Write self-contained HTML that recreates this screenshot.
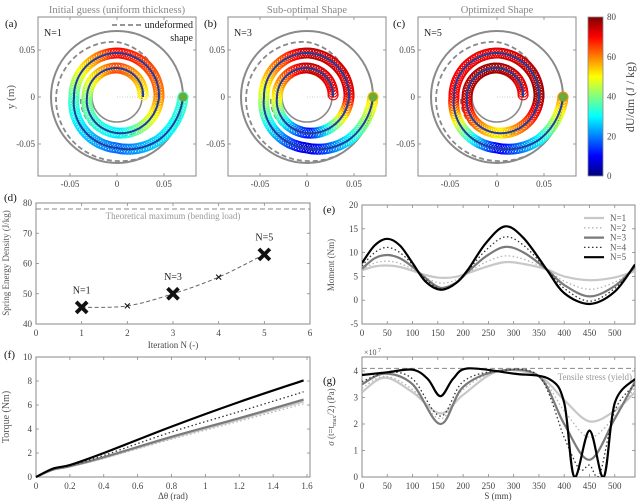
<!DOCTYPE html>
<html><head><meta charset="utf-8"><style>
html,body{margin:0;padding:0;background:#fff;}
svg{display:block;font-family:"Liberation Serif",serif;}
</style></head><body>
<svg id="fig" width="640" height="501" viewBox="0 0 640 501" xmlns="http://www.w3.org/2000/svg"></svg>
<script>
// ---------- data ----------
const spiralThetaKnots = [0,0.25,0.5,1,1.5,2,2.5,3,3.5,4]; // in units of pi
const spiralRadiusKnots = [66,60,51,43,44,42,36,30,29,26];
const colorA = [35,28,18,35,70,60,28,40,65,50];
const colorB = [55,30,6,45,75,72,10,50,75,70];
const colorC = [60,30,8,70,72,78,50,75,78,70];
const dashThetaKnots = [0.33,0.5,1,1.5,2,2.5,3];
const dashRadiusKnots = [66,64,61,55,40,40,36];

const iterations = [1,2,3,4,5];
const energyDensity = [45.5,46,50,55.5,63];
const theoreticalMax = 78;

const momentS = [0,25,50,75,100,125,155,185,210,245,283,320,365,400,450,500,540];
const momentN1 = [6.3,7.1,7.3,7,6.2,5.3,4.7,4.9,5.7,7,8,7.6,6.5,5,4.2,4.8,6.1];
const momentN2 = [6.4,7.8,8.2,7.7,6.5,4.8,3.6,4.2,5.8,8,9.3,8.6,6.5,4,2.3,3.8,6.6];
const momentN3 = [6.6,8.8,9.5,8.8,7,4.7,2.6,3.6,6,9.2,11.2,10,6.5,3.2,0.8,3,7];
const momentN4 = [7.2,10,11.1,10,7.5,4.5,2.4,3.5,6.3,10.5,13.3,11.5,6.5,2.5,-0.2,2.5,7.2];
const momentN5 = [7.8,11.5,12.9,11.5,7.8,4,2.2,3.5,6.5,12,15.5,13,6.5,1.5,-0.8,1.8,7.5];

const torqueX = [0,0.1,0.2,0.4,0.8,1.2,1.58];
const torqueN1 = [0,0.6,0.88,1.6,3.25,4.8,6.3];
const torqueN2 = [0,0.58,0.85,1.55,3.15,4.65,6.1];
const torqueN3 = [0,0.62,0.9,1.65,3.35,4.9,6.45];
const torqueN4 = [0,0.66,0.95,1.8,3.75,5.45,7.1];
const torqueN5 = [0,0.7,1.0,2.0,4.2,6.25,8.05];

const stressS1 = [0,45,100,155,200,270,350,400,450,500,540];
const stressN1 = [3.2,3.75,3.2,2.4,3.1,4.0,3.8,2.9,2.1,2.5,3.2];
const stressN2 = [3.35,3.8,3.3,2.2,3.3,4.0,3.8,2.5,1.5,2.3,3.4];
const stressN3 = [3.5,3.9,3.5,2.0,3.4,4.0,3.8,2.0,0.65,2.2,3.6];
const stressS4 = [0,50,100,155,200,270,350,400,430,450,470,500,540];
const stressN4 = [3.6,3.95,3.7,2.3,3.6,4.0,3.8,1.5,0.3,0.45,0.1,2.5,3.5];
const stressS5 = [0,50,100,130,155,180,210,300,370,400,420,450,478,500,540];
const stressN5 = [3.85,3.95,4.05,3.7,3.05,3.7,4.1,3.9,3.7,2.8,0,1.75,0,2.8,3.7];
const yieldStress = 4.1;

const dTicksX=[0,1,2,3,4,5,6], dTicksY=[40,50,60,70,80];
const eTicksX=[0,50,100,150,200,250,300,350,400,450,500], eTicksY=[-5,0,5,10,15,20];
const fTicksX=[0,0.2,0.4,0.6,0.8,1,1.2,1.4,1.6], fTicksY=[0,2,4,6,8,10];
const gTicksY=[0,1,2,3,4];
const spTicks=[-0.05,0,0.05];
const cbTicks=[0,20,40,60,80];

// ---------- helpers ----------
const NS="http://www.w3.org/2000/svg";
const svg=document.getElementById('fig');
function mk(tag,attrs,name,parent,inter){
  const e=document.createElementNS(NS,tag);
  for(const k in attrs) e.setAttribute(k,attrs[k]);
  
  
  (parent||svg).appendChild(e);
  return e;
}
function txt(x,y,s,name,opt){
  opt=opt||{};
  const t=mk('text',{x:x,y:y,'font-size':opt.fs||9,fill:opt.fill||'#444','text-anchor':opt.anchor||'middle'},name,opt.parent);
  if(opt.rot!==undefined) t.setAttribute('transform','rotate('+opt.rot+' '+x+' '+y+')');
  t.textContent=s;
  return t;
}
function jet(v){
  const t=Math.max(0,Math.min(1,v/80));
  const c=x=>Math.round(255*Math.max(0,Math.min(1,1.5-Math.abs(x))));
  return 'rgb('+c(4*t-3)+','+c(4*t-2)+','+c(4*t-1)+')';
}
function interp(xs,ys,x){
  if(x<=xs[0])return ys[0];
  for(let i=1;i<xs.length;i++){ if(x<=xs[i]){const f=(x-xs[i-1])/(xs[i]-xs[i-1]);return ys[i-1]+f*(ys[i]-ys[i-1]);} }
  return ys[ys.length-1];
}
function smoothPath(pts){
  let d='M'+pts[0][0].toFixed(1)+' '+pts[0][1].toFixed(1);
  for(let i=0;i<pts.length-1;i++){
    const p0=pts[i-1]||pts[i],p1=pts[i],p2=pts[i+1],p3=pts[i+2]||p2;
    const c1=[p1[0]+(p2[0]-p0[0])/6,p1[1]+(p2[1]-p0[1])/6];
    const c2=[p2[0]-(p3[0]-p1[0])/6,p2[1]-(p3[1]-p1[1])/6];
    d+=' C'+c1[0].toFixed(1)+' '+c1[1].toFixed(1)+' '+c2[0].toFixed(1)+' '+c2[1].toFixed(1)+' '+p2[0].toFixed(1)+' '+p2[1].toFixed(1);
  }
  return d;
}
function box(x0,y0,x1,y1,name,xt,yt){
  const g=mk('g',{},name+'-axes');
  mk('rect',{x:x0,y:y0,width:x1-x0,height:y1-y0,fill:'none',stroke:'#888','stroke-width':1},name+'-frame',g);
  xt.forEach(x=>{
    mk('line',{x1:x,x2:x,y1:y1,y2:y1-3,stroke:'#888','stroke-width':0.8},name+'-x-tick',g);
    mk('line',{x1:x,x2:x,y1:y0,y2:y0+3,stroke:'#888','stroke-width':0.8},name+'-x-tick-top',g);
  });
  yt.forEach(y=>{
    mk('line',{x1:x0,x2:x0+3,y1:y,y2:y,stroke:'#888','stroke-width':0.8},name+'-y-tick',g);
    mk('line',{x1:x1,x2:x1-3,y1:y,y2:y,stroke:'#888','stroke-width':0.8},name+'-y-tick-right',g);
  });
  return g;
}
const styles={
  N1:{stroke:'#c8c8c8','stroke-width':2.2},
  N2:{stroke:'#b4b4b4','stroke-width':1.3,'stroke-dasharray':'1.5 2.5'},
  N3:{stroke:'#7a7a7a','stroke-width':2.2},
  N4:{stroke:'#333','stroke-width':1.3,'stroke-dasharray':'1.5 2.5'},
  N5:{stroke:'#000','stroke-width':2.2}
};
function seriesPath(xs,ys,sx,sy,key,name,clip){
  const pts=xs.map((x,i)=>[sx(x),sy(ys[i])]);
  const a=Object.assign({d:smoothPath(pts),fill:'none'},styles[key]);
  if(clip) a['clip-path']=clip;
  return mk('path',a,name);
}

// ---------- top spiral panels ----------
const titles=['Initial guess (uniform thickness)','Sub-optimal Shape','Optimized Shape'];
const centers=[117,307,497], cy=97;
const letterX=[5,204,393];
const letters=['(a)','(b)','(c)'], nlab=['N=1','N=3','N=5'], colors=[colorA,colorB,colorC];
const spScale=47/0.05;
centers.forEach((cx,pi)=>{
  const name=['panel-a','panel-b','panel-c'][pi];
  const g=mk('g',{},name);
  txt(cx,13,titles[pi],name+'-title',{fill:'#888',fs:10.5,parent:g});
  box(cx-79,17,cx+79,176,name,spTicks.map(v=>cx+v*spScale),spTicks.map(v=>cy-v*spScale));
  spTicks.forEach(v=>{
    txt(cx+v*spScale,187,String(v),name+'-x-tick-label',{parent:g});
    txt(cx-82,cy-v*spScale+3,String(v),name+'-y-tick-label',{anchor:'end',parent:g});
  });
  txt(letterX[pi],27,letters[pi],name+'-letter',{fs:11,fill:'#111',anchor:'start',parent:g});
  txt(cx-73,36,nlab[pi],name+'-n-label',{fs:10,fill:'#222',anchor:'start',parent:g});
  mk('circle',{cx:cx,cy:cy,r:66,fill:'none',stroke:'#8a8a8a','stroke-width':2},name+'-outer-ring',g);
  mk('circle',{cx:cx,cy:cy,r:25,fill:'none',stroke:'#8a8a8a','stroke-width':1.6},name+'-inner-hub',g);
  mk('line',{x1:cx,x2:cx+66,y1:cy,y2:cy,stroke:'#bbb','stroke-width':0.8,'stroke-dasharray':'1 1.5'},name+'-zero-line',g);
  let dp=[];
  for(let th=dashThetaKnots[0];th<=dashThetaKnots[dashThetaKnots.length-1]+1e-6;th+=0.02){
    const r=interp(dashThetaKnots,dashRadiusKnots,th);
    dp.push((dp.length?'L':'M')+(cx+r*Math.cos(th*Math.PI)).toFixed(1)+' '+(cy+r*Math.sin(th*Math.PI)).toFixed(1));
  }
  mk('path',{d:dp.join(' '),fill:'none',stroke:'#888','stroke-width':1.8,'stroke-dasharray':'5 3'},name+'-undeformed-shape',g);
  const cg=mk('g',{},name+'-energy-markers',g);
  let th=0;
  while(th<=4){
    const r=interp(spiralThetaKnots,spiralRadiusKnots,th);
    const x=cx+r*Math.cos(th*Math.PI), y=cy+r*Math.sin(th*Math.PI);
    mk('circle',{cx:x.toFixed(1),cy:y.toFixed(1),r:5,fill:'none',stroke:jet(interp(spiralThetaKnots,colors[pi],th)),'stroke-width':1.1},name+'-energy-marker',cg);
    th+=2.6/(r*Math.PI);
  }
  let sp=[];
  for(let t=0;t<=4.0001;t+=0.01){
    const r=interp(spiralThetaKnots,spiralRadiusKnots,t);
    sp.push((sp.length?'L':'M')+(cx+r*Math.cos(t*Math.PI)).toFixed(1)+' '+(cy+r*Math.sin(t*Math.PI)).toFixed(1));
  }
  mk('path',{d:sp.join(' '),fill:'none',stroke:'#1f3d9a','stroke-width':2},name+'-spring-centerline',g);
  mk('circle',{cx:cx+66,cy:cy,r:4.5,fill:'#6aaa3a'},name+'-anchor-point',g);
});
txt(14,97,'y (m)','top-y-axis-title',{fs:11,fill:'#555',rot:-90});
mk('line',{x1:112,x2:141,y1:25,y2:25,stroke:'#888','stroke-width':1.8,'stroke-dasharray':'5 3'},'legend-undeformed-line');
txt(193,28,'undeformed','legend-undeformed-text',{fs:10,fill:'#222',anchor:'end'});
txt(193,41,'shape','legend-shape-text',{fs:10,fill:'#222',anchor:'end'});
const defs=mk('defs',{},'defs');
const lg=mk('linearGradient',{id:'jetg',x1:0,y1:1,x2:0,y2:0},'jet-gradient',defs);
for(let i=0;i<=16;i++) mk('stop',{offset:(i/16),'stop-color':jet(i*5)},'gradient-stop',lg);
mk('rect',{x:588,y:17,width:15,height:159,fill:'url(#jetg)',stroke:'#888','stroke-width':0.8},'colorbar');
cbTicks.forEach(v=>txt(607,176-v/80*159+3,String(v),'colorbar-tick-label',{anchor:'start'}));
txt(634,97,'dU/dm  (J / kg)','colorbar-title',{fs:12,fill:'#444',rot:-90});

// ---------- (d) ----------
const xd=v=>36+v*274/6, yd=v=>324-(v-40)*121/40;
box(36,203,310,324,'panel-d',dTicksX.map(xd),dTicksY.map(yd));
dTicksX.forEach(v=>txt(xd(v),336,String(v),'panel-d-x-tick-label'));
dTicksY.forEach(v=>txt(32,yd(v)+3,String(v),'panel-d-y-tick-label',{anchor:'end'}));
txt(173,348,'Iteration N (-)','panel-d-x-axis-title');
txt(9,263,'Spring Energy Density (J/kg)','panel-d-y-axis-title',{rot:-90,fill:'#555'});
txt(4,201,'(d)','panel-d-letter',{fs:11,fill:'#111',anchor:'start'});
mk('line',{x1:36,x2:310,y1:yd(theoreticalMax),y2:yd(theoreticalMax),stroke:'#888','stroke-width':1,'stroke-dasharray':'5 3'},'theoretical-max-line');
txt(173,219,'Theoretical maximum (bending load)','theoretical-max-label',{fill:'#999'});
mk('path',{d:smoothPath(iterations.map((v,i)=>[xd(v),yd(energyDensity[i])])),fill:'none',stroke:'#666','stroke-width':1,'stroke-dasharray':'4 2.5'},'energy-trend-line');
iterations.forEach((v,i)=>{
  const big=(v%2===1), s=big?5.5:2.5, x=xd(v), y=yd(energyDensity[i]);
  mk('path',{d:'M'+(x-s)+' '+(y-s)+'L'+(x+s)+' '+(y+s)+'M'+(x-s)+' '+(y+s)+'L'+(x+s)+' '+(y-s),stroke:'#111','stroke-width':big?3.8:1.1},'energy-marker-n'+v);
  if(big) txt(x,y-14,'N='+v,'energy-label-n'+v,{fs:10,fill:'#222'});
});

// ---------- (e) ----------
const xe=s=>362+s*273/540, ye=v=>324-(v+5)*119/25;
box(362,205,635,324,'panel-e',eTicksX.map(xe),eTicksY.map(ye));
eTicksX.forEach(v=>txt(xe(v),336,String(v),'panel-e-x-tick-label'));
eTicksY.forEach(v=>txt(358,ye(v)+3,String(v),'panel-e-y-tick-label',{anchor:'end'}));
txt(334,265,'Moment (Nm)','panel-e-y-axis-title',{rot:-90,fill:'#555'});
txt(323,213,'(e)','panel-e-letter',{fs:11,fill:'#111',anchor:'start'});
mk('clipPath',{id:'clipE'},'clip-e',defs);
mk('rect',{x:362,y:205,width:273,height:119},'clip-e-rect',document.getElementById('clipE'));
[[momentN1,'N1'],[momentN2,'N2'],[momentN3,'N3'],[momentN4,'N4'],[momentN5,'N5']].forEach(([ys,k])=>seriesPath(momentS,ys,xe,ye,k,'moment-'+k.toLowerCase(),'url(#clipE)'));
['N1','N2','N3','N4','N5'].forEach((k,i)=>{
  const y=218+i*9.8;
  mk('line',Object.assign({x1:584,x2:604,y1:y,y2:y},styles[k]),'legend-line-'+k.toLowerCase());
  txt(610,y+3,'N='+(i+1),'legend-label-'+k.toLowerCase(),{anchor:'start',fill:'#555'});
});

// ---------- (f) ----------
const xf=v=>36+v*271/1.6, yf=v=>477-v*12;
box(36,357,310,477,'panel-f',fTicksX.map(xf),fTicksY.map(yf));
fTicksX.forEach(v=>txt(xf(v),489,String(v),'panel-f-x-tick-label'));
fTicksY.forEach(v=>txt(32,yf(v)+3,String(v),'panel-f-y-tick-label',{anchor:'end'}));
txt(173,499,'Δθ  (rad)','panel-f-x-axis-title');
txt(9,417,'Torque (Nm)','panel-f-y-axis-title',{rot:-90,fill:'#555',fs:10});
txt(4,358,'(f)','panel-f-letter',{fs:11,fill:'#111',anchor:'start'});
[[torqueN1,'N1'],[torqueN2,'N2'],[torqueN3,'N3'],[torqueN4,'N4'],[torqueN5,'N5']].forEach(([ys,k])=>seriesPath(torqueX,ys,xf,yf,k,'torque-'+k.toLowerCase()));

// ---------- (g) ----------
const xg=xe, yg=v=>477-v*26.5;
box(362,357,635,477,'panel-g',eTicksX.map(xg),gTicksY.map(yg));
eTicksX.forEach(v=>txt(xg(v),489,String(v),'panel-g-x-tick-label'));
gTicksY.forEach(v=>txt(358,yg(v)+3,String(v),'panel-g-y-tick-label',{anchor:'end'}));
txt(498,499,'S (mm)','panel-g-x-axis-title');
const gt=txt(334,417,'','panel-g-y-axis-title',{rot:-90,fill:'#555'});
gt.innerHTML='<tspan font-style="italic">σ</tspan> (t=t<tspan font-size="6" dy="2">max</tspan><tspan dy="-2">/2) (Pa)</tspan>';
txt(364,355,'×10','panel-g-exponent',{anchor:'start',fs:8,fill:'#555'});
txt(378,352,'7','panel-g-exponent-power',{anchor:'start',fs:6,fill:'#555'});
txt(323,384,'(g)','panel-g-letter',{fs:11,fill:'#111',anchor:'start'});
mk('clipPath',{id:'clipG'},'clip-g',defs);
mk('rect',{x:362,y:357,width:273,height:120},'clip-g-rect',document.getElementById('clipG'));
mk('line',{x1:362,x2:635,y1:yg(yieldStress),y2:yg(yieldStress),stroke:'#888','stroke-width':1,'stroke-dasharray':'5 3'},'yield-stress-line');
txt(632,380,'Tensile stress (yield)','yield-stress-label',{anchor:'end',fill:'#999'});
seriesPath(stressS1,stressN1,xg,yg,'N1','stress-n1','url(#clipG)');
seriesPath(stressS1,stressN2,xg,yg,'N2','stress-n2','url(#clipG)');
seriesPath(stressS1,stressN3,xg,yg,'N3','stress-n3','url(#clipG)');
seriesPath(stressS4,stressN4,xg,yg,'N4','stress-n4','url(#clipG)');
seriesPath(stressS5,stressN5,xg,yg,'N5','stress-n5','url(#clipG)');
</script>
</body></html>
